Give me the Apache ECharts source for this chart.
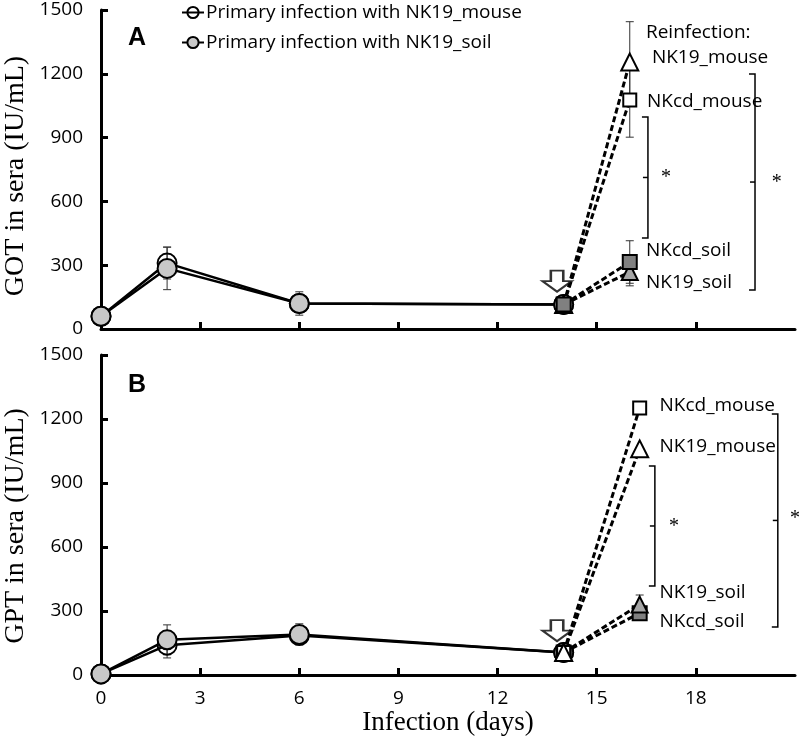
<!DOCTYPE html>
<html><head><meta charset="utf-8">
<script src="https://cdn.jsdelivr.net/npm/echarts@6/dist/echarts.min.js"></script>
<style>html,body{margin:0;padding:0;background:#fff}#c{width:800px;height:738px}</style>
</head><body><div id="c"></div>
<script>
// ---------- data ----------
const days = [0, 2, 6, 14];
const xTickValues = [0, 3, 6, 9, 12, 15, 18];
const yTickInterval = 300;
const legendNames = ['Primary infection with NK19_mouse', 'Primary infection with NK19_soil'];

// Panel A: GOT
const gotPrimaryMouse = [60, 310, 120, 115];
const gotPrimaryMouseSD = [0, 75, 0, 8];
const gotPrimarySoil = [60, 285, 120, 115];
const gotPrimarySoilSD = [0, 100, 55, 8];
const reinfDayA = 16;
const gotReNames = ['NK19_mouse', 'NKcd_mouse', 'NK19_soil', 'NKcd_soil'];
const gotReValues = [1255, 1077, 268, 315];
const gotReSD = [190, 175, 65, 100];

// Panel B: GPT
const gptPrimaryMouse = [5, 140, 185, 105];
const gptPrimaryMouseSD = [0, 60, 0, 8];
const gptPrimarySoil = [5, 165, 190, 105];
const gptPrimarySoilSD = [0, 70, 50, 8];
const reinfDayB = 16.3;
const gptReNames = ['NKcd_soil', 'NK19_soil', 'NKcd_mouse', 'NK19_mouse'];
const gptReValues = [290, 330, 1252, 1060];
const gptReSD = [0, 45, 0, 0];

// ---------- annotation layout (data coordinates) ----------
const annA = [
  {t: 'Reinfection:', x: 16.49, y: 1396},
  {t: 'NK19_mouse', x: 16.67, y: 1274},
  {t: 'NKcd_mouse', x: 16.52, y: 1067},
  {t: 'NKcd_soil', x: 16.49, y: 367},
  {t: 'NK19_soil', x: 16.49, y: 216}
];
const annB = [
  {t: 'NKcd_mouse', x: 16.9, y: 1265},
  {t: 'NK19_mouse', x: 16.9, y: 1070},
  {t: 'NK19_soil', x: 16.9, y: 385},
  {t: 'NKcd_soil', x: 16.9, y: 250}
];
const bracketsA = [
  {x: 16.55, lo: 428, hi: 997, sx: 17.1, sy: 710},
  {x: 19.79, lo: 183, hi: 1199, sx: 20.45, sy: 686}
];
const bracketsB = [
  {x: 16.76, lo: 417, hi: 980, sx: 17.34, sy: 694},
  {x: 20.48, lo: 225, hi: 1224, sx: 21.0, sy: 731}
];
const arrowA = [13.8, 225];
const arrowB = [13.8, 208];

// ---------- styling helpers ----------
const SANS = '"Open Sans", "Liberation Sans", sans-serif';
const SERIF = '"Liberation Serif", "DejaVu Serif", serif';
const reStyle = {
  NK19_mouse: {symbol: 'triangle', size: 17, fill: '#ffffff'},
  NKcd_mouse: {symbol: 'rect', size: 13, fill: '#ffffff'},
  NKcd_soil: {symbol: 'rect', size: 14, fill: '#808080'},
  NK19_soil: {symbol: 'triangle', size: 16, fill: '#a6a6a6'}
};

function primarySeries(name, vals, fill, idx) {
  return {
    type: 'line', name: name, xAxisIndex: idx, yAxisIndex: idx,
    data: days.map((d, i) => [d, vals[i]]),
    symbol: 'circle', symbolSize: 19,
    lineStyle: {color: '#000', width: 2.5},
    itemStyle: {color: fill, borderColor: '#000', borderWidth: 2},
    z: 3, animation: false
  };
}
function errSeries(xs, vals, sds, idx) {
  const data = [];
  xs.forEach((d, i) => { if (sds[i] > 0) data.push([d, vals[i] - sds[i], vals[i] + sds[i]]); });
  return {
    type: 'custom', xAxisIndex: idx, yAxisIndex: idx, data: data, z: 2, silent: true,
    renderItem: function (params, api) {
      const x = api.value(0);
      const lo = api.coord([x, api.value(1)]);
      const hi = api.coord([x, api.value(2)]);
      const s = {stroke: '#333', lineWidth: 1};
      return {type: 'group', children: [
        {type: 'line', shape: {x1: lo[0], y1: lo[1], x2: hi[0], y2: hi[1]}, style: s},
        {type: 'line', shape: {x1: lo[0] - 4, y1: lo[1], x2: lo[0] + 4, y2: lo[1]}, style: s},
        {type: 'line', shape: {x1: hi[0] - 4, y1: hi[1], x2: hi[0] + 4, y2: hi[1]}, style: s}
      ]};
    }
  };
}
function reSeries(name, startVal, day, val, idx) {
  const st = reStyle[name];
  return {
    type: 'line', name: 're_' + name, xAxisIndex: idx, yAxisIndex: idx,
    data: [[14, startVal], [day, val]],
    symbol: st.symbol, symbolSize: st.size,
    lineStyle: {color: '#000', width: 3, type: [6, 3]},
    itemStyle: {color: st.fill, borderColor: '#000', borderWidth: 2},
    z: 4, animation: false
  };
}
function textSeries(items, idx) {
  return {
    type: 'custom', xAxisIndex: idx, yAxisIndex: idx, silent: true, z: 6,
    data: items.map(a => [a.x, a.y, a.t]),
    renderItem: function (params, api) {
      const p = api.coord([api.value(0), api.value(1)]);
      return {type: 'text', x: p[0], y: p[1], style: {
        text: items[params.dataIndex].t, font: '19px ' + SANS, fill: '#000',
        align: 'left', verticalAlign: 'middle'}};
    }
  };
}
function bracketSeries(items, idx) {
  return {
    type: 'custom', xAxisIndex: idx, yAxisIndex: idx, silent: true, z: 6,
    data: items.map(b => [b.x, b.lo, b.hi, b.sx, b.sy]),
    renderItem: function (params, api) {
      const top = api.coord([api.value(0), api.value(2)]);
      const bot = api.coord([api.value(0), api.value(1)]);
      const mid = (top[1] + bot[1]) / 2;
      const st = api.coord([api.value(3), api.value(4)]);
      const s = {stroke: '#000', lineWidth: 1.5, fill: null};
      return {type: 'group', children: [
        {type: 'polyline', shape: {points: [[top[0] - 6, top[1]], [top[0], top[1]], [bot[0], bot[1]], [bot[0] - 6, bot[1]]]}, style: s},
        {type: 'line', shape: {x1: top[0] - 5, y1: mid, x2: top[0], y2: mid}, style: s},
        {type: 'text', x: st[0], y: st[1], style: {text: '*', font: '20px ' + SERIF, fill: '#000', align: 'center', verticalAlign: 'middle'}}
      ]};
    }
  };
}
function arrowSeries(pt, idx) {
  return {
    type: 'scatter', xAxisIndex: idx, yAxisIndex: idx, silent: true, z: 5,
    data: [pt],
    symbol: 'path://M8,0 L20,0 L20,11 L28,11 L14,22 L0,11 L8,11 Z',
    symbolSize: [29, 21],
    itemStyle: {color: '#fff', borderColor: '#000', borderWidth: 2.2},
    animation: false
  };
}
function xAxisCfg(idx, showLabels) {
  return {
    type: 'value', gridIndex: idx, min: 0, max: 21, interval: 3,
    axisLine: {show: true, onZero: false, lineStyle: {color: '#000', width: 3}},
    axisTick: {show: true, inside: true, length: 7, lineStyle: {color: '#000', width: 3}, customValues: xTickValues},
    axisLabel: {show: showLabels, customValues: xTickValues, color: '#000', fontSize: 19, fontFamily: SANS, margin: 14},
    splitLine: {show: false},
    name: showLabels ? 'Infection (days)' : '', nameLocation: 'middle', nameGap: 34,
    nameTextStyle: {color: '#000', fontSize: 27, fontFamily: SERIF}
  };
}
function yAxisCfg(idx) {
  return {
    type: 'value', gridIndex: idx, min: 0, max: 1500, interval: yTickInterval,
    axisLine: {show: true, lineStyle: {color: '#000', width: 3}},
    axisTick: {show: true, inside: true, length: 7, lineStyle: {color: '#000', width: 3}},
    axisLabel: {color: '#000', fontSize: 19, fontFamily: SANS, margin: 18, formatter: v => String(v)},
    splitLine: {show: false}
  };
}

const series = [
  errSeries(days, gotPrimaryMouse, gotPrimaryMouseSD, 0),
  errSeries(days, gotPrimarySoil, gotPrimarySoilSD, 0),
  errSeries(gotReNames.map(() => reinfDayA), gotReValues, gotReSD, 0),
  primarySeries(legendNames[0], gotPrimaryMouse, 'rgba(255,255,255,0)', 0),
  primarySeries(legendNames[1], gotPrimarySoil, '#c8c8c8', 0),
  ...gotReNames.map((n, i) => reSeries(n, gotPrimarySoil[3], reinfDayA, gotReValues[i], 0)),
  arrowSeries(arrowA, 0),
  textSeries(annA, 0),
  bracketSeries(bracketsA, 0),

  errSeries(days, gptPrimaryMouse, gptPrimaryMouseSD, 1),
  errSeries(days, gptPrimarySoil, gptPrimarySoilSD, 1),
  errSeries(gptReNames.map(() => reinfDayB), gptReValues, gptReSD, 1),
  primarySeries(legendNames[0], gptPrimaryMouse, 'rgba(255,255,255,0)', 1),
  primarySeries(legendNames[1], gptPrimarySoil, '#c8c8c8', 1),
  ...gptReNames.map((n, i) => reSeries(n, gptPrimarySoil[3], reinfDayB, gptReValues[i], 1)),
  arrowSeries(arrowB, 1),
  textSeries(annB, 1),
  bracketSeries(bracketsB, 1)
];

const chart = echarts.init(document.getElementById('c'), null, {renderer: 'canvas'});
chart.setOption({
  backgroundColor: '#fff',
  animation: false,
  grid: [
    {left: 101, right: 5, top: 10, height: 319},
    {left: 101, right: 5, top: 355, height: 320}
  ],
  xAxis: [xAxisCfg(0, false), xAxisCfg(1, true)],
  yAxis: [yAxisCfg(0), yAxisCfg(1)],
  legend: {
    data: legendNames, orient: 'vertical', left: 181, top: 3, padding: 0,
    itemGap: 11, itemWidth: 22, itemHeight: 14,
    textStyle: {color: '#000', fontSize: 19, fontFamily: SANS, padding: [0, 0, 0, -3]},
    selectedMode: false
  },
  graphic: [
    {type: 'text', left: 128, top: 26, style: {text: 'A', font: 'bold 25px "Liberation Sans", Arial, sans-serif', fill: '#000'}},
    {type: 'text', left: 128, top: 373, style: {text: 'B', font: 'bold 25px "Liberation Sans", Arial, sans-serif', fill: '#000'}},
    {type: 'text', x: 16, y: 176, rotation: Math.PI / 2, style: {text: 'GOT in sera (IU/mL)', font: '28px ' + SERIF, fill: '#000', align: 'center', verticalAlign: 'middle'}},
    {type: 'text', x: 16, y: 526, rotation: Math.PI / 2, style: {text: 'GPT in sera (IU/mL)', font: '28px ' + SERIF, fill: '#000', align: 'center', verticalAlign: 'middle'}}
  ],
  series: series
});
</script></body></html>
